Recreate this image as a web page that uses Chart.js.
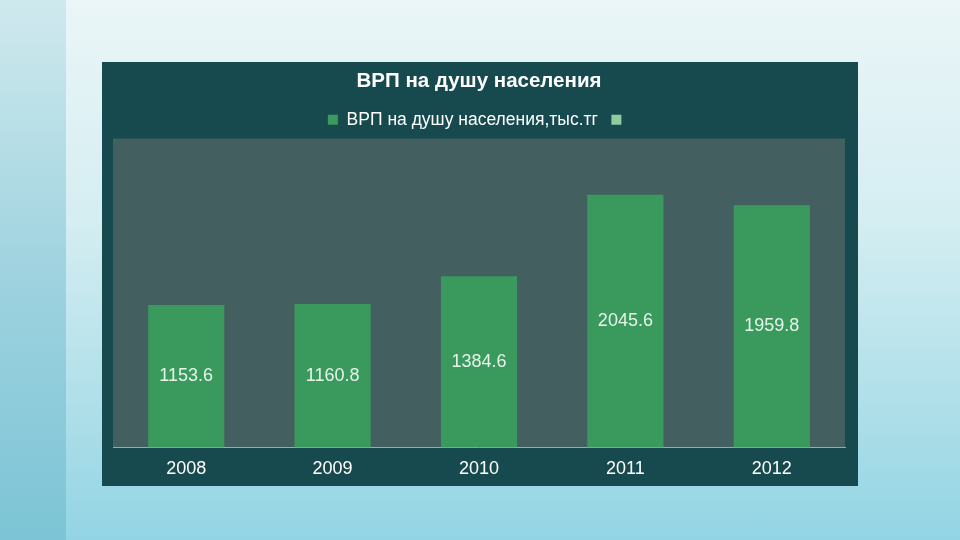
<!DOCTYPE html>
<html>
<head>
<meta charset="utf-8">
<script src="https://cdn.jsdelivr.net/npm/chart.js@4.4.0/dist/chart.umd.min.js"></script>
<style>
    html, body { margin: 0; padding: 0; }
    body {
        width: 960px; height: 540px; overflow: hidden; position: relative;
        background: linear-gradient(180deg, #eaf6f7 0%, #d5eef2 40%, #a9dde8 80%, #93d4e4 100%);
        font-family: "Liberation Sans", Arial, sans-serif;
    }
    .strip {
        position: absolute; left: 0; top: 0; width: 66px; height: 540px;
        background: linear-gradient(180deg, #cfe9ee 0%, #9fd3df 50%, #7cc4d6 100%);
    }
    .box {
        position: absolute; left: 102px; top: 62px; width: 756px; height: 424px;
        background: #174a4f; overflow: hidden;
    }
</style>
</head>
<body>
<div class="strip"></div>
<div class="box"><canvas id="barChart" width="756" height="424"></canvas></div>
<script>
// data
var years = ['2008', '2009', '2010', '2011', '2012'];
var grpValues = [1153.6, 1160.8, 1384.6, 2045.6, 1959.8];
var seriesName = 'ВРП на душу населения,тыс.тг';
var chartTitle = 'ВРП на душу населения';

// fill the plot area
var plotBg = {
    id: 'plotBg',
    beforeDraw: function (chart) {
        var a = chart.chartArea, ctx = chart.ctx;
        ctx.save();
        ctx.fillStyle = '#445f60';
        ctx.fillRect(a.left, a.top, a.right - a.left, a.bottom - a.top);
        ctx.restore();
    }
};

// value labels centred inside the bars
var valueLabels = {
    id: 'valueLabels',
    afterDatasetsDraw: function (chart) {
        var ctx = chart.ctx;
        var meta = chart.getDatasetMeta(0);
        ctx.save();
        ctx.fillStyle = '#e6f4ea';
        ctx.font = '18px "Liberation Sans", Arial, sans-serif';
        ctx.textAlign = 'center';
        ctx.textBaseline = 'middle';
        meta.data.forEach(function (bar, i) {
            ctx.fillText(grpValues[i].toFixed(1), bar.x, (bar.y + bar.base) / 2);
        });
        ctx.restore();
    }
};

var canvas = document.getElementById('barChart');
new Chart(canvas, {
    type: 'bar',
    data: {
        labels: years,
        datasets: [{
            label: seriesName,
            data: grpValues,
            backgroundColor: '#3a9a5e',
            grouped: false,
            barPercentage: 0.52,
            categoryPercentage: 1
        }, {
            label: '',
            data: [],
            backgroundColor: '#8fcc9e',
            grouped: false
        }]
    },
    options: {
        responsive: false,
        animation: false,
        layout: { padding: { left: 11, right: 13, top: 6, bottom: -5 } },
        plugins: {
            title: {
                display: true,
                text: chartTitle,
                color: '#ffffff',
                font: { family: '"Liberation Sans", Arial, sans-serif', size: 20.5, weight: 'bold' },
                padding: { top: 1, bottom: 4 }
            },
            legend: {
                display: true,
                labels: {
                    color: '#ffffff',
                    boxWidth: 10,
                    boxHeight: 10,
                    padding: 13.5,
                    font: { family: '"Liberation Sans", Arial, sans-serif', size: 17.5 }
                }
            },
            tooltip: { enabled: false }
        },
        scales: {
            x: {
                grid: { display: false, drawTicks: false },
                border: { color: '#9aaaa8', width: 1 },
                ticks: {
                    color: '#ffffff',
                    padding: 11,
                    font: { family: '"Liberation Sans", Arial, sans-serif', size: 18 }
                }
            },
            y: {
                display: false,
                min: 0,
                max: 2500
            }
        }
    },
    plugins: [plotBg, valueLabels]
});
</script>
</body>
</html>
